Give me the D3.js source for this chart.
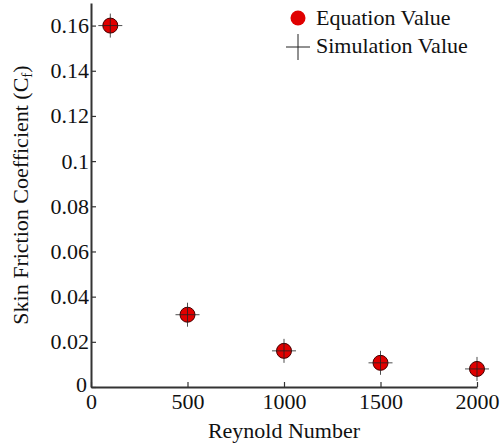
<!DOCTYPE html>
<html>
<head>
<meta charset="utf-8">
<script src="https://cdn.jsdelivr.net/npm/d3@7"></script>
<style>
  body { margin: 0; background: #fff; }
  svg text { font-family: "Liberation Serif", "Times New Roman", serif; fill: #111; }
</style>
</head>
<body>
<svg id="chart" width="501" height="444" font-family="Liberation Serif"></svg>
<script>
var reynolds = [100, 500, 1000, 1500, 2000];
var equationValues = [0.160, 0.032, 0.016, 0.0107, 0.008];
var simulationValues = [0.160, 0.032, 0.016, 0.0107, 0.008];
var xTicks = [0, 500, 1000, 1500, 2000];
var yTicks = [0, 0.02, 0.04, 0.06, 0.08, 0.1, 0.12, 0.14, 0.16];

var svg = d3.select("#chart");
var margin = {left: 91, top: 3, right: 24, bottom: 57};
var width = 501 - margin.left - margin.right;
var height = 444 - margin.top - margin.bottom;
var fs = 22;
var serif = "Liberation Serif";

var x = d3.scaleLinear().domain([0, 2000]).range([0, width]);
var y = d3.scaleLinear().domain([0, 0.17]).range([height, 0]);

var g = svg.append("g").attr("transform", "translate(" + margin.left + "," + margin.top + ")");

var xAxis = g.append("g")
  .attr("transform", "translate(0," + height + ")")
  .call(d3.axisBottom(x).tickValues(xTicks).tickSizeInner(-5).tickSizeOuter(0).tickPadding(6).tickFormat(d3.format("d")));
var yAxis = g.append("g")
  .call(d3.axisLeft(y).tickValues(yTicks).tickSizeInner(-5).tickSizeOuter(0).tickPadding(2).tickFormat(function(d){ return String(+d.toFixed(2)); }));

[xAxis, yAxis].forEach(function(a){
  a.attr("font-family", serif);
  a.select(".domain").attr("stroke", "#333").attr("stroke-width", 2);
  a.selectAll(".tick line").attr("stroke", "#333").attr("stroke-width", 1.2);
  a.selectAll(".tick text").attr("font-size", fs).attr("font-family", serif).attr("fill", "#111");
});
xAxis.selectAll(".tick text").attr("dy", "0.72em");
// lift the y-axis zero a little so it clears the x-axis zero
yAxis.selectAll(".tick text").filter(function(d){ return d === 0; }).attr("dy", "0.22em").attr("x", -4);

// equation markers
g.selectAll("circle.eq").data(reynolds).enter().append("circle")
  .attr("class", "eq")
  .attr("cx", function(d){ return x(d); })
  .attr("cy", function(d, i){ return y(equationValues[i]); })
  .attr("r", 7.5)
  .attr("fill", "#e00000")
  .attr("stroke", "#400")
  .attr("stroke-width", 1);

// simulation markers (plus sign)
var cross = g.selectAll("g.sim").data(reynolds).enter().append("g")
  .attr("class", "sim")
  .attr("transform", function(d, i){ return "translate(" + x(d) + "," + y(simulationValues[i]) + ")"; });
cross.append("line").attr("x1", -12).attr("x2", 12).attr("y1", 0).attr("y2", 0);
cross.append("line").attr("x1", 0).attr("x2", 0).attr("y1", -12).attr("y2", 12);
cross.selectAll("line").attr("stroke", "#222").attr("stroke-width", 1).attr("stroke-opacity", 0.8);

// axis labels
svg.append("text")
  .attr("x", 284).attr("y", 438)
  .attr("text-anchor", "middle").attr("font-size", fs).attr("font-family", serif)
  .text("Reynold Number");

var yl = svg.append("text")
  .attr("transform", "translate(28,195) rotate(-90)")
  .attr("text-anchor", "middle").attr("font-size", fs).attr("font-family", serif);
yl.append("tspan").text("Skin Friction Coefficient (C");
yl.append("tspan").attr("font-size", 15).attr("dy", 4).text("f");
yl.append("tspan").attr("dy", -4).text(")");

// legend
var legend = svg.append("g").attr("transform", "translate(298,18)");
legend.append("circle").attr("r", 7.5).attr("fill", "#e00000");
legend.append("text").attr("x", 18).attr("y", 7).attr("font-size", fs).attr("font-family", serif).text("Equation Value");
var lc = legend.append("g").attr("transform", "translate(0,29)");
lc.append("line").attr("x1", -12).attr("x2", 12);
lc.append("line").attr("y1", -13).attr("y2", 13);
lc.selectAll("line").attr("stroke", "#222").attr("stroke-width", 1);
legend.append("text").attr("x", 18).attr("y", 35).attr("font-size", fs).attr("font-family", serif).text("Simulation Value");
</script>
</body>
</html>
